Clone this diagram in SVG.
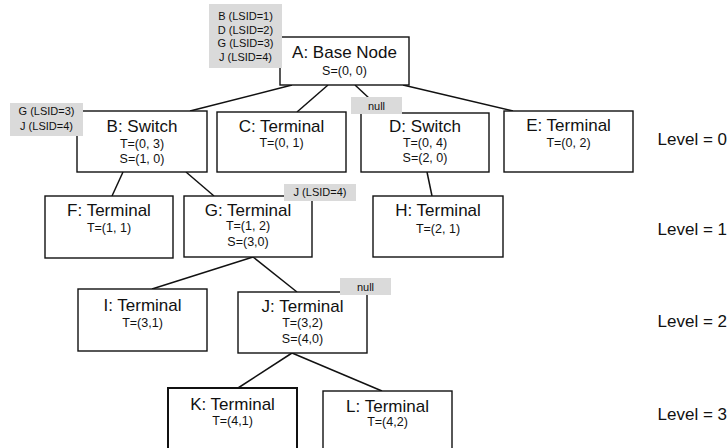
<svg xmlns="http://www.w3.org/2000/svg" width="728" height="448" viewBox="0 0 728 448">
<style>
.box{fill:#fff;stroke:#111;stroke-width:1.4}
.tag{fill:#dadada;stroke:none}
.conn line{stroke:#111;stroke-width:1.5}
text{font-family:"Liberation Sans",Arial,sans-serif;fill:#111}
.nm{font-size:17px;text-anchor:middle}
.sm{font-size:12.5px;text-anchor:middle}
.tg{font-size:11px;text-anchor:middle}
.lv{font-size:17px;text-anchor:end}
</style>
<rect width="728" height="448" fill="#fff"/>
<g id="connectors" class="conn">
<line x1="292" y1="85" x2="190" y2="111"/>
<line x1="328" y1="85" x2="297" y2="112"/>
<line x1="355" y1="85" x2="385" y2="113"/>
<line x1="403" y1="85" x2="513" y2="111"/>
<line x1="123" y1="172" x2="112" y2="196"/>
<line x1="186" y1="172" x2="214" y2="196"/>
<line x1="427" y1="172" x2="432" y2="196"/>
<line x1="253" y1="257" x2="152" y2="289"/>
<line x1="253" y1="257" x2="297" y2="292"/>
<line x1="292" y1="353" x2="238" y2="388"/>
<line x1="292" y1="353" x2="382" y2="391"/>
</g>
<g id="A"><rect class="box" x="280" y="37" width="129" height="48"/><text class="nm" x="344.5" y="58">A: Base Node</text><text class="sm" x="344.5" y="75">S=(0, 0)</text></g>
<g id="tagA"><rect class="tag" x="209" y="4" width="73" height="64"/><text class="tg" x="245.5" y="20">B (LSID=1)</text><text class="tg" x="245.5" y="33.5">D (LSID=2)</text><text class="tg" x="245.5" y="47">G (LSID=3)</text><text class="tg" x="245.5" y="61">J (LSID=4)</text></g>
<g id="B"><rect class="box" x="77" y="111" width="130" height="61"/><text class="nm" x="142" y="132">B: Switch</text><text class="sm" x="142" y="148">T=(0, 3)</text><text class="sm" x="142" y="163">S=(1, 0)</text></g>
<g id="tagB"><rect class="tag" x="10" y="103" width="73" height="33"/><text class="tg" x="46.5" y="115">G (LSID=3)</text><text class="tg" x="46.5" y="130">J (LSID=4)</text></g>
<g id="C"><rect class="box" x="217" y="112" width="129" height="60"/><text class="nm" x="281.5" y="132">C: Terminal</text><text class="sm" x="281.5" y="147">T=(0, 1)</text></g>
<g id="D"><rect class="box" x="361" y="113" width="128" height="59"/><text class="nm" x="425" y="132">D: Switch</text><text class="sm" x="425" y="147">T=(0, 4)</text><text class="sm" x="425" y="162">S=(2, 0)</text></g>
<g id="tagD"><rect class="tag" x="351" y="97" width="51" height="17"/><text class="tg" x="376.5" y="110">null</text></g>
<g id="E"><rect class="box" x="504" y="111" width="129" height="61"/><text class="nm" x="568.5" y="131">E: Terminal</text><text class="sm" x="568.5" y="147">T=(0, 2)</text></g>
<g id="F"><rect class="box" x="45" y="196" width="128" height="62"/><text class="nm" x="109" y="216">F: Terminal</text><text class="sm" x="109" y="232">T=(1, 1)</text></g>
<g id="G"><rect class="box" x="184" y="196" width="128" height="61"/><text class="nm" x="248" y="216">G: Terminal</text><text class="sm" x="248" y="230">T=(1, 2)</text><text class="sm" x="248" y="246">S=(3,0)</text></g>
<g id="tagG"><rect class="tag" x="284" y="184" width="72" height="17"/><text class="tg" x="320" y="196">J (LSID=4)</text></g>
<g id="H"><rect class="box" x="373" y="196" width="130" height="61"/><text class="nm" x="438" y="216">H: Terminal</text><text class="sm" x="438" y="233">T=(2, 1)</text></g>
<g id="I"><rect class="box" x="78" y="289" width="129" height="62"/><text class="nm" x="142.5" y="311">I: Terminal</text><text class="sm" x="142.5" y="327">T=(3,1)</text></g>
<g id="J"><rect class="box" x="238" y="292" width="129" height="61"/><text class="nm" x="302.5" y="312">J: Terminal</text><text class="sm" x="302.5" y="327">T=(3,2)</text><text class="sm" x="302.5" y="343">S=(4,0)</text></g>
<g id="tagJ"><rect class="tag" x="340" y="278" width="51" height="17"/><text class="tg" x="365.5" y="291">null</text></g>
<g id="K"><rect class="box" x="168" y="388" width="129" height="75" style="stroke-width:2"/><text class="nm" x="232.5" y="410">K: Terminal</text><text class="sm" x="232.5" y="425">T=(4,1)</text></g>
<g id="L"><rect class="box" x="323" y="391" width="129" height="72"/><text class="nm" x="387.5" y="412">L: Terminal</text><text class="sm" x="387.5" y="426">T=(4,2)</text></g>
<g id="levels"><text class="lv" x="727" y="145">Level = 0</text><text class="lv" x="727" y="235">Level = 1</text><text class="lv" x="727" y="327">Level = 2</text><text class="lv" x="727" y="420">Level = 3</text></g>
</svg>
